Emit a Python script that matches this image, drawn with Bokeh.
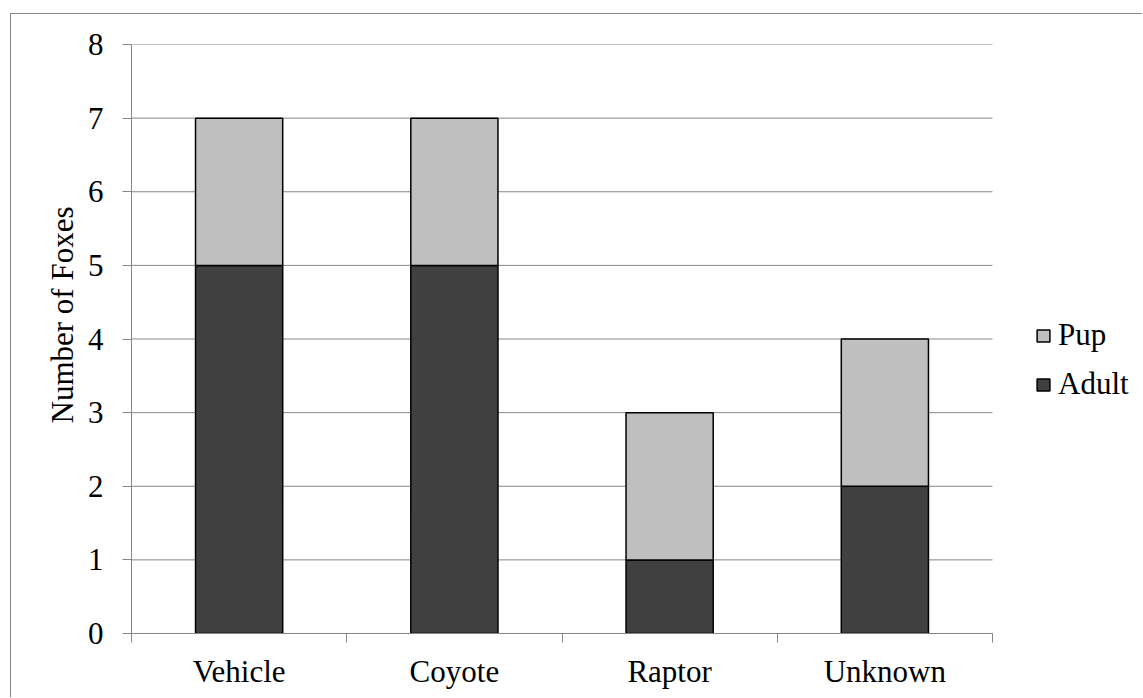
from bokeh.plotting import figure
from bokeh.models import (Range1d, FixedTicker, Legend, LegendItem, Title, ColumnDataSource)
from bokeh.embed import file_html
from bokeh.resources import INLINE

categories = ["Vehicle", "Coyote", "Raptor", "Unknown"]
adult = [5, 5, 1, 2]
pup = [2, 2, 2, 2]
series_names = ["Adult", "Pup"]
legend_order = ["Pup", "Adult"]
y_ticks = [0, 1, 2, 3, 4, 5, 6, 7, 8]
y_title = "Number of Foxes"

colors = {"Adult": "#404040", "Pup": "#BFBFBF"}
FONT = "Liberation Serif"
FS = "31px"
GRAY = "#878787"

n = len(categories)
slot_centers = [i + 0.5 for i in range(n)]
slot_bounds = list(range(n + 1))

# layout (pixels)
W, H = 1132, 684
LEFT, TOP, BOTTOM = 120, 30, 65
PLOT_W = 861                      # width of the category area
FRAME_W = W - LEFT                # frame runs to the right edge (legend lives there)
x_end = n * FRAME_W / PLOT_W

p = figure(width=W, height=H,
           x_range=Range1d(0, x_end),
           y_range=Range1d(y_ticks[0], y_ticks[-1]),
           output_backend="svg", toolbar_location=None,
           min_border_left=LEFT, min_border_right=0,
           min_border_top=TOP, min_border_bottom=BOTTOM)
p.margin = (13, 0, 0, 10)
p.styles = {"border-left": "1px solid #878787", "border-top": "1px solid #878787"}
p.outline_line_color = None
p.background_fill_color = "white"
p.border_fill_color = "white"
p.xgrid.visible = False
p.ygrid.visible = False

# horizontal gridlines across the category area only
grid_src = ColumnDataSource(dict(y=y_ticks, x0=[0] * len(y_ticks), x1=[n] * len(y_ticks)))
p.segment(x0="x0", x1="x1", y0="y", y1="y", source=grid_src,
          line_color=GRAY, line_width=1, level="underlay")

src = ColumnDataSource(dict(x=slot_centers, cat=categories, Adult=adult, Pup=pup))
rs = p.vbar_stack(series_names, x="x", width=0.405, source=src,
                  fill_color=[colors[s] for s in series_names],
                  line_color="black", line_width=1.5)

# y axis
p.yaxis.ticker = FixedTicker(ticks=y_ticks)
p.yaxis.axis_line_color = GRAY
p.yaxis.major_tick_line_color = GRAY
p.yaxis.major_tick_out = 9
p.yaxis.major_tick_in = 0
p.yaxis.minor_tick_line_color = None
p.yaxis.major_label_text_font = FONT
p.yaxis.major_label_text_font_size = FS
p.yaxis.major_label_text_color = "black"
p.yaxis.major_label_standoff = 19

# x axis: labels at category centres, ticks at category boundaries
xax = p.xaxis[0]
xax.bounds = (0, n)
xax.ticker = FixedTicker(ticks=slot_centers, minor_ticks=slot_bounds)
xax.major_label_overrides = {c: name for c, name in zip(slot_centers, categories)}
xax.axis_line_color = GRAY
xax.major_tick_line_color = None
xax.minor_tick_line_color = GRAY
xax.minor_tick_out = 9
xax.minor_tick_in = 0
xax.major_tick_out = 9
xax.major_label_text_font = FONT
xax.major_label_text_font_size = FS
xax.major_label_text_color = "black"
xax.major_label_standoff = 11

# y-axis title
p.add_layout(Title(text=y_title, align="left", offset=210, standoff=10,
                   text_font=FONT, text_font_size=FS, text_font_style="normal",
                   text_color="black"), "left")

# legend (inside the frame, to the right of the category area)
items = [LegendItem(label=s, renderers=[rs[series_names.index(s)]]) for s in legend_order]
legend = Legend(items=items, location=(904, 231), glyph_width=16, glyph_height=15,
                label_standoff=7, spacing=13, padding=0, margin=0,
                border_line_color=None, background_fill_alpha=0,
                label_text_font=FONT, label_text_font_size=FS,
                label_text_color="black")
p.add_layout(legend)

open("out.html", "w").write(file_html(p, INLINE))
